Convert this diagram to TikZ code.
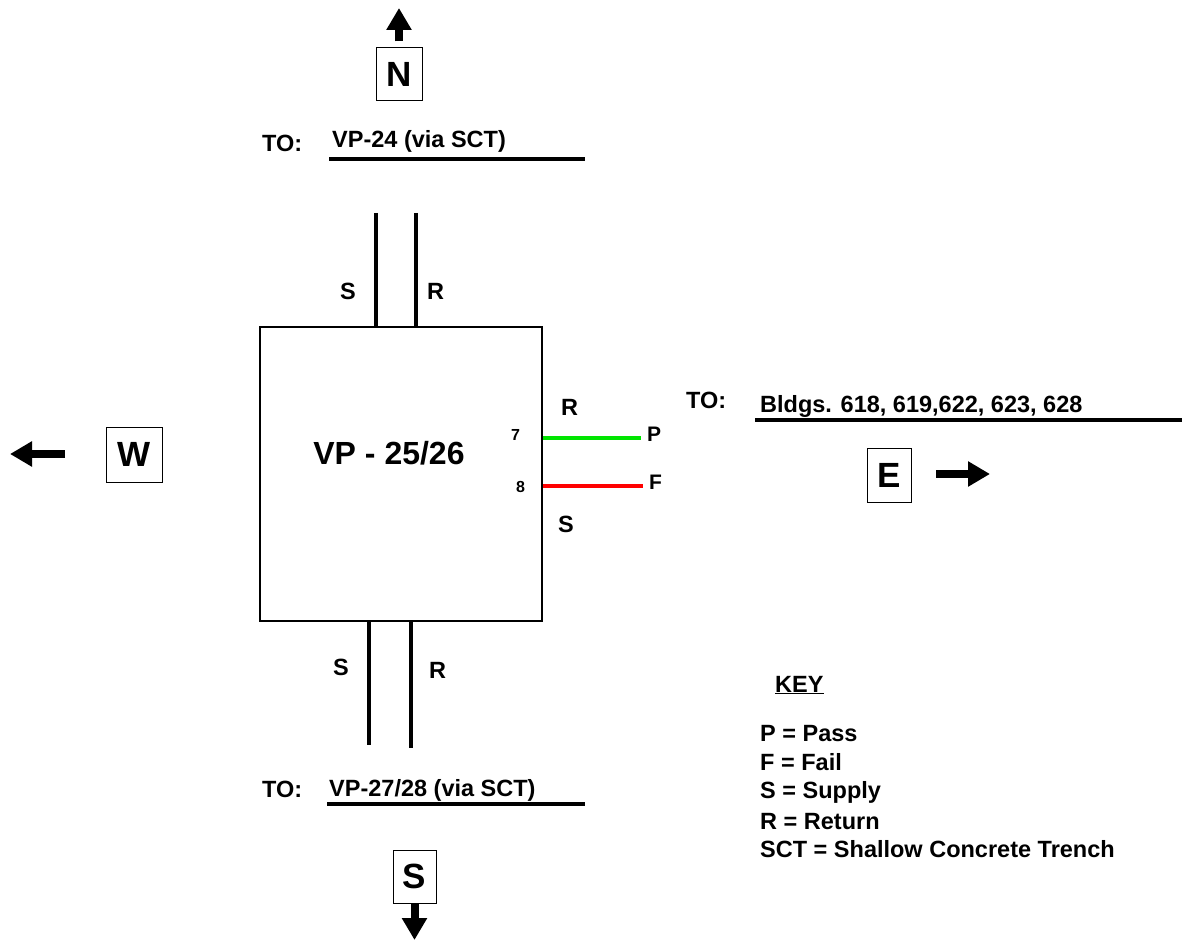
\documentclass[tikz,border=0pt]{standalone}
\usepackage{fontspec}
\setmainfont{Liberation Sans}
\usetikzlibrary{arrows.meta}
\tikzset{
  txt/.style={inner sep=0pt, anchor=base west, font=\fontsize{23.5}{27}\selectfont\bfseries},
  small/.style={inner sep=0pt, anchor=base west, font=\fontsize{16}{19}\selectfont\bfseries},
  compass/.style={draw, line width=1pt, inner sep=0pt, minimum width=46pt, minimum height=53pt, font=\fontsize{35}{40}\selectfont\bfseries},
  pointer/.style={line width=8pt, -{Triangle[width=24pt,length=22pt]}},
  pipe/.style={line width=4.5pt},
  uline/.style={line width=3.5pt},
}
\begin{document}
\begin{tikzpicture}[x=1pt,y=-1pt]
\path[use as bounding box] (0,0) rectangle (1192,941);
% main box
\node[draw, line width=2pt, minimum width=282pt, minimum height=294pt, inner sep=0pt, anchor=north west] (vp) at (259,326) {};
\node[inner sep=0pt, anchor=base, font=\fontsize{32}{38}\selectfont\bfseries] (vplabel) at (389,464) {VP - 25/26};
% top
\node[txt] (toN) at (262,152) {TO:};
\node[txt] (destN) at (332,148) {VP-24 (via SCT)};
\coordinate (uN1) at (329,159); \coordinate (uN2) at (585,159);
\draw[uline] (uN1) -- (uN2);
\coordinate (tS) at (376,213); \coordinate (tR) at (416,213);
\draw[pipe] (tS) -- (tS |- vp.north);
\draw[pipe] (tR) -- (tR |- vp.north);
\node[txt] (tSl) at (340,300) {S};
\node[txt] (tRl) at (427,300) {R};
% bottom
\coordinate (bS) at (369,745); \coordinate (bR) at (411,748);
\draw[pipe] (bS |- vp.south) -- (bS);
\draw[pipe] (bR |- vp.south) -- (bR);
\node[txt] (bSl) at (333,675) {S};
\node[txt] (bRl) at (429,678) {R};
\node[txt] (toS) at (262,797) {TO:};
\node[txt] (destS) at (329,796) {VP-27/28 (via SCT)};
\coordinate (uS1) at (327,804); \coordinate (uS2) at (585,804);
\draw[uline] (uS1) -- (uS2);
% right side
\node[small] (n7) at (511,440) {7};
\node[small] (n8) at (516,492) {8};
\coordinate (pEnd) at (641,438); \coordinate (fEnd) at (643,486);
\draw[line width=4pt, green!90!black] (pEnd -| vp.east) -- (pEnd);
\draw[line width=4pt, red] (fEnd -| vp.east) -- (fEnd);
\node[txt, font=\fontsize{21}{25}\selectfont\bfseries] (Pl) at (647,441) {P};
\node[txt, font=\fontsize{21}{25}\selectfont\bfseries] (Fl) at (649,489) {F};
\node[txt] (rRl) at (561,415) {R};
\node[txt] (rSl) at (558,532) {S};
\node[txt] (toE) at (686,408) {TO:};
\node[txt] (destE) at (760,412) {Bldgs. 618, 619,622, 623, 628};
\coordinate (uE1) at (755,420); \coordinate (uE2) at (1182,420);
\draw[uline] (uE1) -- (uE2);
% compass
\node[compass] (N) at (399,74.5) {N};
\coordinate (Ntip) at (399,8);
\draw[pointer] ([yshift=6pt]N.north) -- (Ntip);
\node[compass, minimum width=56pt, minimum height=55pt] (W) at (134,454.5) {W};
\coordinate (Wtail) at (65,454); \coordinate (Wtip) at (10,454);
\draw[pointer] (Wtail) -- (Wtip);
\node[compass, minimum width=44pt, minimum height=54pt] (E) at (889,475) {E};
\coordinate (Etail) at (936,474); \coordinate (Etip) at (990,474);
\draw[pointer] (Etail) -- (Etip);
\node[compass, minimum width=43pt, minimum height=53pt] (S) at (414.5,876.5) {S};
\coordinate (Stip) at (414.5,940);
\draw[pointer] (S.south) -- (Stip);
% key
\node[txt] (key) at (775,692) {\underline{KEY}};
\node[txt] (k1) at (760,741) {P = Pass};
\node[txt] (k2) at (760,770) {F = Fail};
\node[txt] (k3) at (760,798) {S = Supply};
\node[txt] (k4) at (760,829) {R = Return};
\node[txt] (k5) at (760,857) {SCT = Shallow Concrete Trench};
\end{tikzpicture}
\end{document}
